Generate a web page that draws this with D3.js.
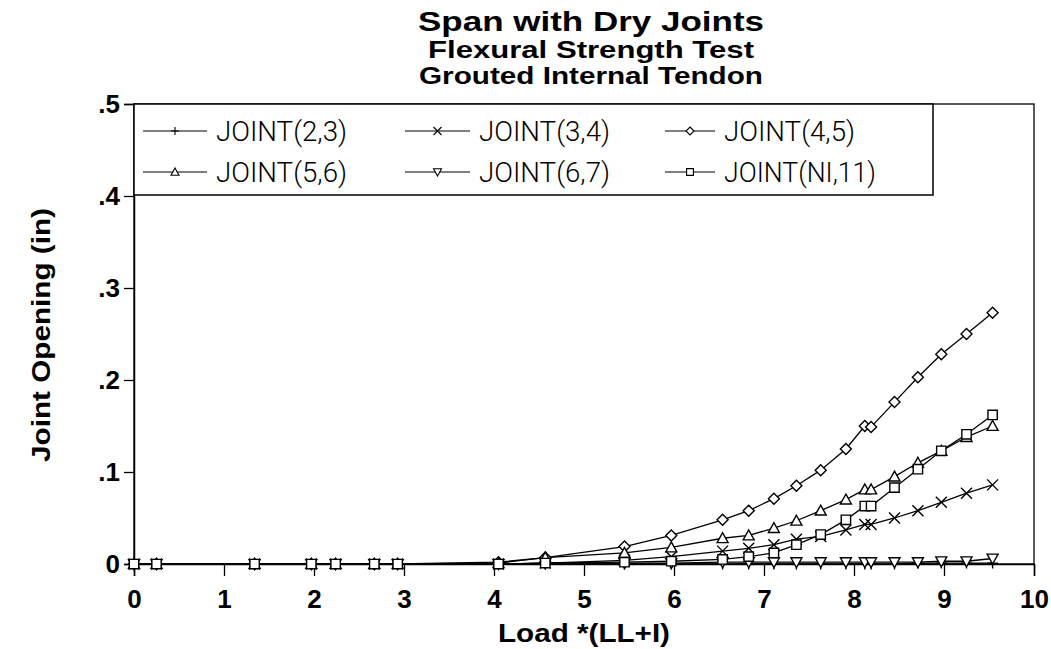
<!DOCTYPE html>
<html>
<head>
<meta charset="utf-8">
<script src="https://cdn.jsdelivr.net/npm/d3@7"></script>
<style>
  html, body { margin: 0; padding: 0; background: #fff; }
  svg { display: block; }
</style>
</head>
<body>
<svg id="chart" width="1051" height="649"></svg>
<script>
// ---- data ----
const titleLines = ["Span with Dry Joints", "Flexural Strength Test", "Grouted Internal Tendon"];
const xTitle = "Load *(LL+I)";
const yTitle = "Joint Opening (in)";
const xTicks = [0, 1, 2, 3, 4, 5, 6, 7, 8, 9, 10];
const yTicks = [0, 0.1, 0.2, 0.3, 0.4, 0.5];
const yTickLabels = ["0", ".1", ".2", ".3", ".4", ".5"];

const load = [0, 0.25, 1.34, 1.97, 2.24, 2.67, 2.93, 4.05, 4.57, 5.45, 5.97, 6.54, 6.83, 7.11, 7.36, 7.63, 7.91, 8.12, 8.19, 8.45, 8.71, 8.97, 9.25, 9.54];
const joint23 = [0, 0, 0, 0, 0, 0, 0, 0, 0, 0, 0, 0, 0, 0, 0, 0, 0, 0, 0, 0, 0.001, 0.001, 0.001, 0.001];
const joint34 = [0, 0, 0, 0, 0, 0, 0, 0, 0.001, 0.004, 0.008, 0.014, 0.017, 0.021, 0.027, 0.030, 0.037, 0.043, 0.043, 0.050, 0.058, 0.067, 0.077, 0.086];
const joint45 = [0, 0, 0, 0, 0, 0, 0, 0.002, 0.007, 0.019, 0.031, 0.048, 0.058, 0.071, 0.085, 0.102, 0.125, 0.150, 0.149, 0.176, 0.203, 0.228, 0.250, 0.273];
const joint56 = [0, 0, 0, 0, 0, 0, 0, 0.001, 0.007, 0.012, 0.018, 0.028, 0.031, 0.039, 0.047, 0.058, 0.070, 0.081, 0.081, 0.095, 0.110, 0.123, 0.138, 0.150];
const joint67 = [0, 0, 0, 0, 0, 0, 0, 0, 0.001, 0.001, 0.001, 0.002, 0.002, 0.002, 0.002, 0.002, 0.002, 0.002, 0.002, 0.002, 0.002, 0.003, 0.003, 0.006];
const jointNI = [0, 0, 0, 0, 0, 0, 0, 0, 0.001, 0.002, 0.003, 0.005, 0.008, 0.012, 0.021, 0.032, 0.048, 0.063, 0.063, 0.083, 0.103, 0.123, 0.141, 0.162];

const seriesNames = ["JOINT(2,3)", "JOINT(3,4)", "JOINT(4,5)", "JOINT(5,6)", "JOINT(6,7)", "JOINT(NI,11)"];
const seriesValues = [joint23, joint34, joint45, joint56, joint67, jointNI];
const seriesMarkers = ["plus", "cross", "diamond", "triangleUp", "triangleDown", "square"];

// ---- layout ----
const svg = d3.select("#chart");
const pLeft = 134, pRight = 1034, pTop = 104, pBottom = 564;
const x = d3.scaleLinear().domain([0, 10]).range([pLeft, pRight]);
const y = d3.scaleLinear().domain([0, 0.5]).range([pBottom, pTop]);

const boldFont = "'Liberation Sans', Arial, sans-serif";
const thinFont = "'Roboto', 'Lato', 'DejaVu Sans', sans-serif";

function markerPath(type, r) {
  const p = d3.path();
  switch (type) {
    case "plus":
      p.moveTo(-r, 0); p.lineTo(r, 0); p.moveTo(0, -r); p.lineTo(0, r); break;
    case "cross":
      p.moveTo(-r, -r); p.lineTo(r, r); p.moveTo(-r, r); p.lineTo(r, -r); break;
    case "diamond":
      p.moveTo(0, -r); p.lineTo(r, 0); p.lineTo(0, r); p.lineTo(-r, 0); p.closePath(); break;
    case "triangleUp":
      p.moveTo(0, -r); p.lineTo(r, r * 0.8); p.lineTo(-r, r * 0.8); p.closePath(); break;
    case "triangleDown":
      p.moveTo(0, r); p.lineTo(r, -r * 0.8); p.lineTo(-r, -r * 0.8); p.closePath(); break;
    case "square":
      p.rect(-r * 0.85, -r * 0.85, r * 1.7, r * 1.7); break;
  }
  return p.toString();
}

// ---- titles ----
const titleSpec = [
  { size: 28, yb: 31, len: 346 },
  { size: 23, yb: 58, len: 326 },
  { size: 23, yb: 84, len: 344 }
];
titleLines.forEach((t, i) => {
  svg.append("text")
    .attr("x", 591).attr("y", titleSpec[i].yb)
    .attr("text-anchor", "middle")
    .attr("font-family", boldFont).attr("font-weight", "bold")
    .attr("font-size", titleSpec[i].size)
    .attr("textLength", titleSpec[i].len).attr("lengthAdjust", "spacingAndGlyphs")
    .text(t);
});

// ---- frame ----
svg.append("rect")
  .attr("x", pLeft).attr("y", pTop)
  .attr("width", pRight - pLeft).attr("height", pBottom - pTop)
  .attr("fill", "none").attr("stroke", "#000").attr("stroke-width", 1.3);

// ---- axes ----
const xAxis = svg.append("g")
  .attr("transform", `translate(0,${pBottom})`)
  .call(d3.axisBottom(x).tickValues(xTicks).tickSize(12).tickPadding(14).tickFormat(d3.format("d")));
xAxis.select(".domain").attr("stroke-width", 1.5);
xAxis.selectAll(".tick line").attr("stroke-width", 1.3);
xAxis.selectAll(".tick text")
  .attr("font-family", boldFont).attr("font-weight", "bold").attr("font-size", 26)
  .attr("fill", "#000");

const yAxis = svg.append("g")
  .attr("transform", `translate(${pLeft},0)`)
  .call(d3.axisLeft(y).tickValues(yTicks).tickSize(10).tickPadding(4)
    .tickFormat((d, i) => yTickLabels[i]));
yAxis.select(".domain").attr("stroke-width", 1.5);
yAxis.selectAll(".tick line").attr("stroke-width", 1.3);
yAxis.selectAll(".tick text")
  .attr("font-family", boldFont).attr("font-weight", "bold").attr("font-size", 26)
  .attr("fill", "#000");

svg.append("text")
  .attr("x", 584).attr("y", 642)
  .attr("text-anchor", "middle")
  .attr("font-family", boldFont).attr("font-weight", "bold").attr("font-size", 25)
  .attr("textLength", 172).attr("lengthAdjust", "spacingAndGlyphs")
  .text(xTitle);

svg.append("text")
  .attr("transform", "translate(50,335) rotate(-90)")
  .attr("text-anchor", "middle")
  .attr("font-family", boldFont).attr("font-weight", "bold").attr("font-size", 25)
  .attr("textLength", 254).attr("lengthAdjust", "spacingAndGlyphs")
  .text(yTitle);

// ---- series ----
const line = d3.line().x(d => x(d[0])).y(d => y(d[1]));
const plot = svg.append("g");
seriesValues.forEach((vals, s) => {
  const pts = load.map((l, i) => [l, vals[i]]);
  plot.append("path")
    .attr("d", line(pts))
    .attr("fill", "none").attr("stroke", "#000").attr("stroke-width", 1.3);
});
seriesValues.forEach((vals, s) => {
  const pts = load.map((l, i) => [l, vals[i]]);
  const hollow = !(seriesMarkers[s] === "plus" || seriesMarkers[s] === "cross");
  plot.selectAll(null).data(pts).enter().append("path")
    .attr("transform", d => `translate(${x(d[0])},${y(d[1])})`)
    .attr("d", markerPath(seriesMarkers[s], 5.5))
    .attr("fill", hollow ? "#fff" : "none")
    .attr("stroke", "#000").attr("stroke-width", 1.4);
});

// ---- legend ----
const legend = svg.append("g");
legend.append("rect")
  .attr("x", pLeft).attr("y", pTop)
  .attr("width", 933 - pLeft).attr("height", 195 - pTop)
  .attr("fill", "#fff").attr("stroke", "#000").attr("stroke-width", 1.5);
const colLine = [[143, 207], [405, 470], [665, 715]];
const rowY = [131, 172];
seriesNames.forEach((name, i) => {
  const c = i % 3, r = Math.floor(i / 3);
  const [x0, x1] = colLine[c];
  const yy = rowY[r];
  legend.append("line")
    .attr("x1", x0).attr("x2", x1).attr("y1", yy).attr("y2", yy)
    .attr("stroke", "#000").attr("stroke-width", 1.2);
  legend.append("path")
    .attr("transform", `translate(${(x0 + x1) / 2},${yy})`)
    .attr("d", markerPath(seriesMarkers[i], 4))
    .attr("fill", "#fff").attr("stroke", "#000").attr("stroke-width", 1.1);
  legend.append("text")
    .attr("x", x1 + 9).attr("y", yy + 10)
    .attr("font-family", thinFont).attr("font-weight", 300).attr("font-size", 27)
    .attr("textLength", name.length > 10 ? 152 : 131).attr("lengthAdjust", "spacingAndGlyphs")
    .text(name);
});
</script>
</body>
</html>
